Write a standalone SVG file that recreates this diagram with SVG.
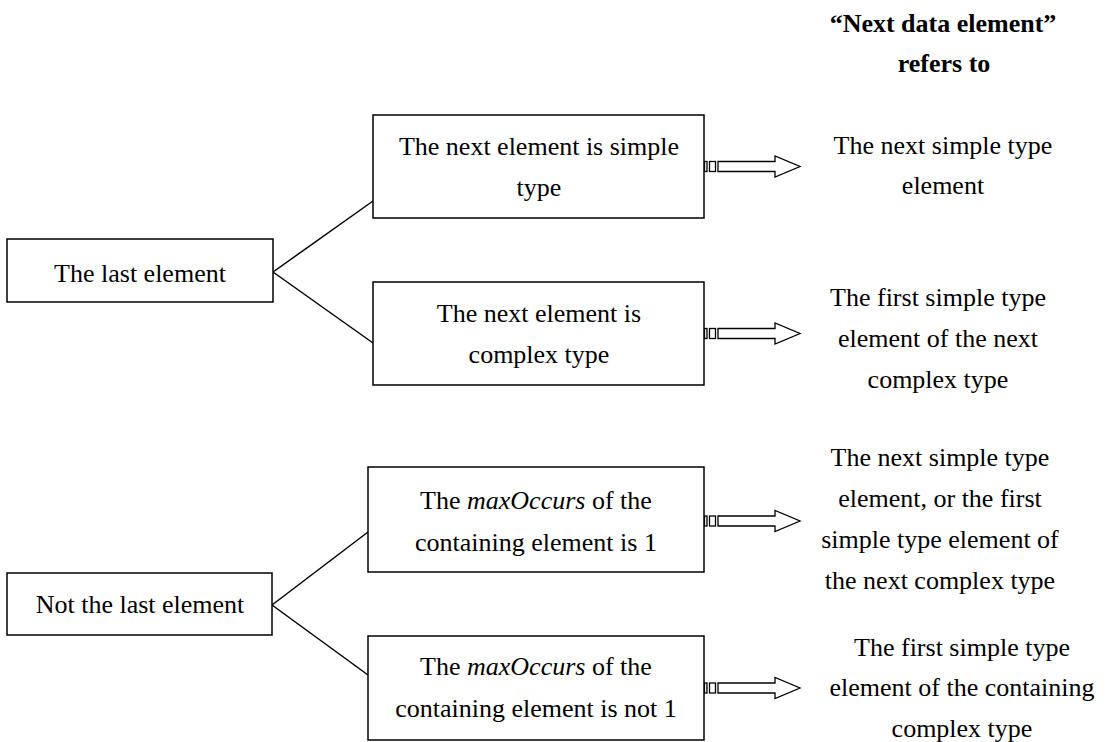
<svg xmlns="http://www.w3.org/2000/svg" width="1108" height="742" viewBox="0 0 1108 742">
  <style>
    .box { fill: #ffffff; stroke: #000000; stroke-width: 1.5; }
    .link { fill: none; stroke: #000000; stroke-width: 1.5; }
    .arrow { fill: #ffffff; stroke: #000000; stroke-width: 1.3; }
    text { font-family: "Liberation Serif", "Times New Roman", serif; font-size: 26px; fill: #000000; text-anchor: middle; }
    .head { font-weight: bold; }
    .it { font-style: italic; }
  </style>
  <defs>
    <!-- striped block arrow, origin at the tail centre -->
    <g id="striped-arrow">
      <rect class="arrow" x="0.5" y="-5" width="2.5" height="10"/>
      <rect class="arrow" x="5.5" y="-5" width="6" height="10"/>
      <polygon class="arrow" points="14,-5 71,-5 71,-10.5 96,0 71,10.5 71,5 14,5"/>
    </g>
  </defs>

  <rect width="1108" height="742" fill="#ffffff"/>

  <!-- column heading -->
  <g id="heading">
    <text class="head" x="943" y="32">“Next data element”</text>
    <text class="head" x="944" y="72">refers to</text>
  </g>

  <!-- connectors -->
  <g id="connectors">
    <line class="link" x1="273" y1="272" x2="373" y2="201"/>
    <line class="link" x1="273" y1="272" x2="373" y2="343"/>
    <line class="link" x1="272" y1="605" x2="368" y2="532"/>
    <line class="link" x1="272" y1="605" x2="368" y2="675"/>
    <use href="#striped-arrow" transform="translate(704,166.5)"/>
    <use href="#striped-arrow" transform="translate(704,333.5)"/>
    <use href="#striped-arrow" transform="translate(704,521)"/>
    <use href="#striped-arrow" transform="translate(704,688)"/>
  </g>

  <g id="last-element">
    <rect class="box" x="7" y="239" width="266" height="63"/>
    <text x="140" y="282">The last element</text>
  </g>

  <g id="not-last-element">
    <rect class="box" x="7" y="573" width="265" height="62"/>
    <text x="140" y="613">Not the last element</text>
  </g>

  <g id="next-simple">
    <rect class="box" x="373" y="115" width="331" height="103"/>
    <text x="539" y="155">The next element is simple</text>
    <text x="539" y="196">type</text>
  </g>

  <g id="next-complex">
    <rect class="box" x="373" y="282" width="331" height="103"/>
    <text x="539" y="322">The next element is</text>
    <text x="539" y="363">complex type</text>
  </g>

  <g id="max-one">
    <rect class="box" x="368" y="467" width="336" height="105"/>
    <text x="536" y="509">The <tspan class="it">maxOccurs</tspan> of the</text>
    <text x="536" y="551">containing element is 1</text>
  </g>

  <g id="max-not-one">
    <rect class="box" x="368" y="636" width="336" height="104"/>
    <text x="536" y="675">The <tspan class="it">maxOccurs</tspan> of the</text>
    <text x="536" y="717">containing element is not 1</text>
  </g>

  <!-- results -->
  <g id="result-simple">
    <text x="943" y="154">The next simple type</text>
    <text x="943" y="194">element</text>
  </g>

  <g id="result-complex">
    <text x="938" y="306">The first simple type</text>
    <text x="938" y="347">element of the next</text>
    <text x="938" y="388">complex type</text>
  </g>

  <g id="result-max-one">
    <text x="940" y="466">The next simple type</text>
    <text x="940" y="507">element, or the first</text>
    <text x="940" y="548">simple type element of</text>
    <text x="940" y="589">the next complex type</text>
  </g>

  <g id="result-max-not-one">
    <text x="962" y="656">The first simple type</text>
    <text x="962" y="696">element of the containing</text>
    <text x="962" y="737">complex type</text>
  </g>
</svg>
